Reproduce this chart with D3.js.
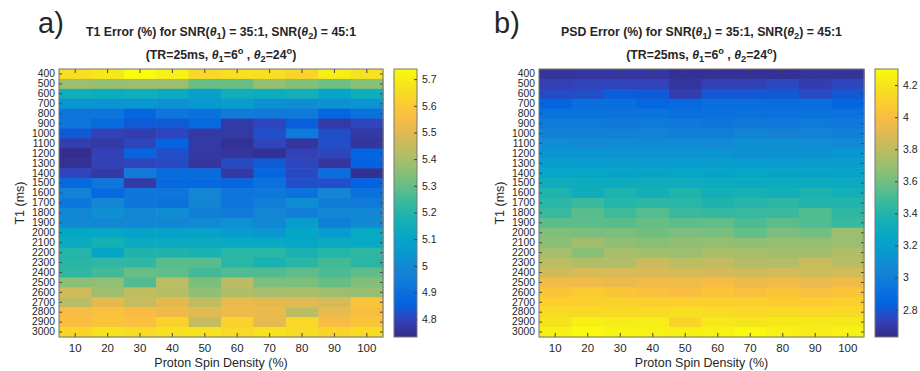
<!DOCTYPE html>
<html>
<head>
<meta charset="utf-8">
<script src="https://cdn.jsdelivr.net/npm/d3@7"></script>
<style>
    body { margin: 0; background: #fff; }
    text { font-family: "Liberation Sans", Arial, sans-serif; fill: #262626; }
</style>
</head>
<body>
<div id="chart"></div>
<script>
// proton spin density (%) columns
const densities = [10, 20, 30, 40, 50, 60, 70, 80, 90, 100];

// T1 (ms) rows
const t1Values = [400, 500, 600, 700, 800, 900, 1000, 1100, 1200, 1300, 1400, 1500, 1600, 1700,
    1800, 1900, 2000, 2100, 2200, 2300, 2400, 2500, 2600, 2700, 2800, 2900, 3000];

// panel a: T1 error (%), one row per T1 value
const t1Error = [
    [5.66, 5.69, 5.74, 5.71, 5.64, 5.66, 5.66, 5.63, 5.70, 5.67],
    [5.38, 5.37, 5.38, 5.38, 5.30, 5.30, 5.37, 5.34, 5.31, 5.35],
    [5.15, 5.14, 5.15, 5.13, 5.08, 5.15, 5.14, 5.16, 5.10, 5.15],
    [5.04, 5.03, 5.04, 5.02, 5.05, 5.07, 5.02, 5.01, 5.02, 5.03],
    [4.92, 4.92, 4.87, 4.92, 4.91, 4.95, 4.94, 4.94, 4.87, 4.91],
    [4.92, 4.89, 4.84, 4.84, 4.88, 4.77, 4.80, 4.85, 4.77, 4.80],
    [4.84, 4.79, 4.78, 4.80, 4.77, 4.77, 4.82, 4.94, 4.82, 4.77],
    [4.78, 4.77, 4.80, 4.86, 4.77, 4.75, 4.80, 4.76, 4.82, 4.76],
    [4.74, 4.79, 4.87, 4.82, 4.77, 4.76, 4.75, 4.79, 4.80, 4.86],
    [4.75, 4.79, 4.80, 4.81, 4.76, 4.81, 4.84, 4.80, 4.76, 4.86],
    [4.80, 4.77, 4.94, 4.89, 4.89, 4.77, 4.87, 4.81, 4.90, 4.75],
    [4.88, 4.92, 4.77, 4.88, 4.88, 4.87, 4.91, 4.82, 4.82, 4.86],
    [4.97, 4.88, 4.93, 4.92, 4.98, 4.92, 4.93, 4.91, 4.98, 4.91],
    [4.93, 4.99, 4.93, 4.91, 4.98, 4.92, 4.96, 5.01, 4.95, 4.94],
    [4.99, 5.02, 4.98, 5.01, 4.96, 4.94, 4.98, 4.96, 4.99, 4.99],
    [5.00, 4.99, 4.99, 4.99, 5.00, 5.02, 4.99, 5.07, 4.96, 5.00],
    [5.11, 5.11, 5.09, 5.09, 5.09, 5.06, 5.04, 5.11, 5.06, 5.12],
    [5.13, 5.17, 5.13, 5.13, 5.13, 5.12, 5.12, 5.11, 5.13, 5.12],
    [5.20, 5.10, 5.19, 5.19, 5.18, 5.21, 5.21, 5.18, 5.20, 5.22],
    [5.21, 5.22, 5.22, 5.28, 5.28, 5.21, 5.18, 5.21, 5.25, 5.21],
    [5.22, 5.25, 5.30, 5.29, 5.25, 5.27, 5.27, 5.29, 5.26, 5.29],
    [5.35, 5.36, 5.27, 5.43, 5.33, 5.43, 5.33, 5.33, 5.30, 5.34],
    [5.47, 5.38, 5.44, 5.42, 5.36, 5.41, 5.39, 5.40, 5.38, 5.37],
    [5.43, 5.51, 5.45, 5.51, 5.44, 5.52, 5.51, 5.50, 5.48, 5.58],
    [5.55, 5.57, 5.55, 5.53, 5.50, 5.53, 5.52, 5.43, 5.52, 5.56],
    [5.56, 5.58, 5.57, 5.62, 5.45, 5.62, 5.51, 5.64, 5.55, 5.58],
    [5.63, 5.67, 5.65, 5.66, 5.67, 5.64, 5.67, 5.65, 5.63, 5.65]
];

// panel b: PSD error (%)
const psdError = [
    [2.67, 2.68, 2.68, 2.68, 2.66, 2.66, 2.66, 2.66, 2.67, 2.67],
    [2.72, 2.73, 2.73, 2.73, 2.68, 2.72, 2.72, 2.75, 2.71, 2.74],
    [2.76, 2.77, 2.82, 2.81, 2.71, 2.80, 2.80, 2.80, 2.76, 2.80],
    [2.85, 2.90, 2.90, 2.86, 2.88, 2.91, 2.91, 2.89, 2.90, 2.86],
    [2.92, 2.92, 2.92, 2.93, 2.90, 2.92, 2.92, 2.92, 2.92, 2.92],
    [2.98, 2.98, 2.97, 2.98, 2.96, 2.95, 2.97, 2.96, 2.98, 2.96],
    [3.03, 3.03, 3.02, 3.04, 3.00, 3.01, 3.04, 3.03, 3.04, 3.01],
    [3.09, 3.07, 3.08, 3.08, 3.08, 3.07, 3.10, 3.10, 3.09, 3.07],
    [3.13, 3.13, 3.13, 3.13, 3.13, 3.13, 3.10, 3.12, 3.12, 3.14],
    [3.19, 3.18, 3.18, 3.17, 3.18, 3.18, 3.18, 3.17, 3.18, 3.19],
    [3.25, 3.25, 3.24, 3.24, 3.25, 3.24, 3.25, 3.24, 3.24, 3.23],
    [3.31, 3.30, 3.30, 3.32, 3.31, 3.30, 3.29, 3.30, 3.30, 3.29],
    [3.39, 3.32, 3.38, 3.34, 3.39, 3.34, 3.36, 3.33, 3.38, 3.34],
    [3.42, 3.47, 3.41, 3.43, 3.42, 3.39, 3.41, 3.43, 3.40, 3.40],
    [3.46, 3.54, 3.48, 3.53, 3.47, 3.45, 3.46, 3.47, 3.52, 3.44],
    [3.55, 3.55, 3.54, 3.57, 3.55, 3.56, 3.51, 3.55, 3.52, 3.46],
    [3.63, 3.62, 3.62, 3.60, 3.62, 3.61, 3.56, 3.62, 3.60, 3.70],
    [3.66, 3.72, 3.67, 3.65, 3.67, 3.68, 3.67, 3.68, 3.68, 3.70],
    [3.73, 3.65, 3.73, 3.71, 3.70, 3.74, 3.73, 3.72, 3.72, 3.76],
    [3.79, 3.76, 3.76, 3.84, 3.79, 3.81, 3.77, 3.77, 3.83, 3.78],
    [3.85, 3.88, 3.88, 3.88, 3.87, 3.87, 3.85, 3.86, 3.85, 3.86],
    [3.97, 3.96, 3.94, 3.97, 3.96, 3.99, 3.95, 3.96, 3.94, 3.96],
    [4.05, 4.07, 4.05, 4.02, 4.00, 4.05, 4.01, 4.04, 4.01, 4.05],
    [4.09, 4.10, 4.11, 4.09, 4.09, 4.10, 4.10, 4.08, 4.08, 4.10],
    [4.15, 4.15, 4.14, 4.16, 4.18, 4.16, 4.14, 4.15, 4.14, 4.15],
    [4.19, 4.25, 4.23, 4.24, 4.12, 4.22, 4.20, 4.22, 4.22, 4.22],
    [4.25, 4.29, 4.27, 4.26, 4.25, 4.26, 4.29, 4.26, 4.24, 4.26]
];

// colorbar ticks
const t1ErrorTicks = [4.8, 4.9, 5.0, 5.1, 5.2, 5.3, 5.4, 5.5, 5.6, 5.7];
const psdErrorTicks = [2.8, 3.0, 3.2, 3.4, 3.6, 3.8, 4.0, 4.2];

// MATLAB parula, sampled
const parulaStops = ["rgb(53,42,135)", "rgb(50,67,186)", "rgb(3,99,225)", "rgb(13,117,220)",
    "rgb(20,133,212)", "rgb(9,152,209)", "rgb(6,167,198)", "rgb(21,177,180)", "rgb(56,185,158)",
    "rgb(101,190,134)", "rgb(146,191,115)", "rgb(183,189,100)", "rgb(217,186,86)",
    "rgb(248,187,68)", "rgb(252,206,46)", "rgb(245,228,29)", "rgb(249,251,14)"];
const parula = d3.piecewise(d3.interpolateRgb, parulaStops);

const width = 920, height = 371;
const plotTop = 69, plotBottom = 337;

const svg = d3.select("#chart")
    .append("svg")
    .attr("width", width)
    .attr("height", height);

// gradient for the colorbars
const grad = svg.append("defs").append("linearGradient")
    .attr("id", "parulaGrad")
    .attr("x1", 0).attr("y1", 1).attr("x2", 0).attr("y2", 0);
grad.selectAll("stop")
    .data(parulaStops)
    .join("stop")
    .attr("offset", (d, i) => i / (parulaStops.length - 1))
    .attr("stop-color", d => d);

// writes text with italic theta / sub / superscripts
function richText(sel, parts) {
    let shift = 0;
    for (let p of parts) {
        let target = p.sub ? 3 : p.sup ? -5 : 0;
        let ts = sel.append("tspan")
            .attr("dy", target - shift)
            .text(p.t);
        if (p.sub || p.sup) ts.style("font-size", "0.75em");
        if (p.it) ts.style("font-style", "italic");
        shift = target;
    }
}

function drawPanel(opt) {
    const g = svg.append("g");

    let x = d3.scaleBand()
        .domain(densities)
        .range([opt.left, opt.right]);

    let y = d3.scaleBand()
        .domain(t1Values)
        .range([plotTop, plotBottom]);

    let color = d3.scaleSequential(parula).domain(opt.domain);

    let cells = [];
    opt.values.forEach((row, i) => row.forEach((v, j) => {
        cells.push({ t1: t1Values[i], pd: densities[j], v: v });
    }));

    g.append("g")
        .selectAll("rect")
        .data(cells)
        .join("rect")
        .attr("x", d => x(d.pd))
        .attr("y", d => y(d.t1))
        .attr("width", x.bandwidth() + 0.6)
        .attr("height", y.bandwidth() + 0.6)
        .attr("fill", d => color(d.v));

    // axes, MATLAB style ticks pointing inwards
    let xAxis = g.append("g")
        .attr("transform", `translate(0,${plotBottom})`)
        .call(d3.axisBottom(x).tickSizeInner(-4).tickSizeOuter(0).tickPadding(7));
    xAxis.selectAll("text").style("font-size", "11.5px");

    g.append("g")
        .attr("transform", `translate(0,${plotTop})`)
        .call(d3.axisTop(x).tickSizeInner(-4).tickSizeOuter(0).tickFormat(""));

    let yAxis = g.append("g")
        .attr("transform", `translate(${opt.left},0)`)
        .call(d3.axisLeft(y).tickSizeInner(-3).tickSizeOuter(0).tickPadding(4));
    yAxis.selectAll("text").style("font-size", "10.3px");

    g.append("g")
        .attr("transform", `translate(${opt.right},0)`)
        .call(d3.axisRight(y).tickSizeInner(-3).tickSizeOuter(0).tickFormat(""));

    g.selectAll(".domain").remove();
    g.selectAll(".tick line").attr("stroke", "#444");

    // box
    g.append("rect")
        .attr("x", opt.left)
        .attr("y", plotTop)
        .attr("width", opt.right - opt.left)
        .attr("height", plotBottom - plotTop)
        .attr("fill", "none")
        .attr("stroke", "#777")
        .attr("stroke-width", 1);

    // axis labels
    g.append("text")
        .attr("text-anchor", "middle")
        .attr("x", (opt.left + opt.right) / 2)
        .attr("y", 367)
        .style("font-size", "12.5px")
        .text("Proton Spin Density (%)");

    g.append("text")
        .attr("text-anchor", "middle")
        .attr("transform", `translate(${opt.left - 35},${(plotTop + plotBottom) / 2}) rotate(-90)`)
        .style("font-size", "12.5px")
        .text("T1 (ms)");

    // titles
    let cx = (opt.left + opt.right) / 2;
    let t1 = g.append("text")
        .attr("text-anchor", "middle")
        .attr("x", cx)
        .attr("y", 36)
        .style("font-size", "12.3px")
        .style("font-weight", "bold");
    richText(t1, [
        { t: opt.title + " for SNR(" }, { t: "θ", it: true }, { t: "1", sub: true },
        { t: ") = 35:1, SNR(" }, { t: "θ", it: true }, { t: "2", sub: true }, { t: ") = 45:1" }
    ]);

    let t2 = g.append("text")
        .attr("text-anchor", "middle")
        .attr("x", cx)
        .attr("y", 59)
        .style("font-size", "12.3px")
        .style("font-weight", "bold");
    richText(t2, [
        { t: "(TR=25ms, " }, { t: "θ", it: true }, { t: "1", sub: true }, { t: "=6" },
        { t: "o", sup: true }, { t: " , " }, { t: "θ", it: true }, { t: "2", sub: true },
        { t: "=24" }, { t: "o", sup: true }, { t: ")" }
    ]);

    g.append("text")
        .attr("x", opt.labelX)
        .attr("y", 33)
        .style("font-size", "29px")
        .text(opt.label);

    // colorbar
    let cb = g.append("g");
    let cy = d3.scaleLinear()
        .domain(opt.domain)
        .range([plotBottom, plotTop]);

    cb.append("rect")
        .attr("x", opt.cbLeft)
        .attr("y", plotTop)
        .attr("width", 23)
        .attr("height", plotBottom - plotTop)
        .attr("fill", "url(#parulaGrad)")
        .attr("stroke", "#777");

    let cbAxis = cb.append("g")
        .attr("transform", `translate(${opt.cbLeft + 23},0)`)
        .call(d3.axisRight(cy)
            .tickValues(opt.ticks)
            .tickFormat(d => +d.toFixed(1))
            .tickSizeInner(-3)
            .tickSizeOuter(0)
            .tickPadding(5));
    cbAxis.select(".domain").remove();
    cbAxis.selectAll(".tick line").attr("stroke", "#444");
    cbAxis.selectAll("text").style("font-size", "10.5px");
}

drawPanel({
    left: 59, right: 383, cbLeft: 394,
    values: t1Error, domain: [4.733, 5.738], ticks: t1ErrorTicks,
    title: "T1 Error (%)", label: "a)", labelX: 38
});

drawPanel({
    left: 539, right: 864, cbLeft: 875,
    values: psdError, domain: [2.63, 4.30], ticks: psdErrorTicks,
    title: "PSD Error (%)", label: "b)", labelX: 494
});
</script>
</body>
</html>
